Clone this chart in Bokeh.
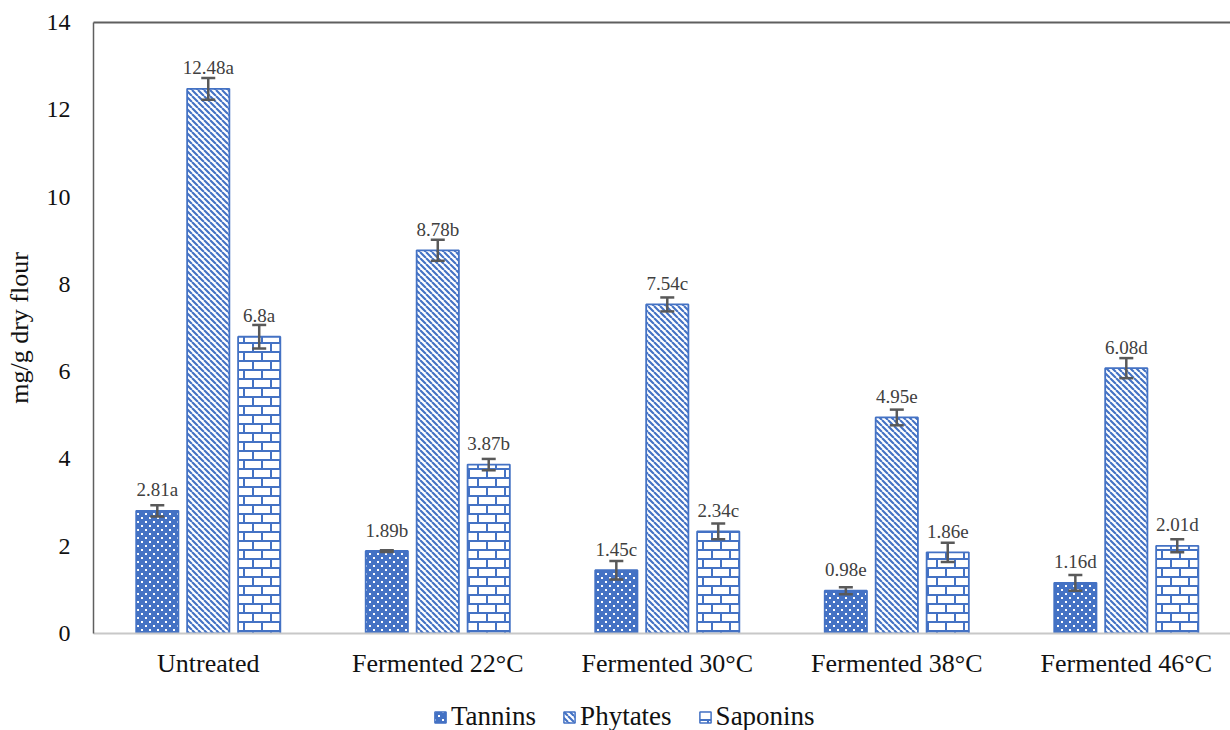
from bokeh.plotting import figure
from bokeh.layouts import column
from bokeh.models import (Range1d, LinearAxis, FixedTicker, Whisker, TeeHead, ColumnDataSource,
                          Legend, LegendItem, CanvasTexture)
from bokeh.transform import dodge
from bokeh.core.properties import value
from bokeh.embed import file_html
from bokeh.resources import INLINE

# ---------------- data ----------------
categories = ["Untreated", "Fermented 22°C", "Fermented 30°C", "Fermented 38°C", "Fermented 46°C"]
series = ["Tannins", "Phytates", "Saponins"]
tannins = [2.81, 1.89, 1.45, 0.98, 1.16]
phytates = [12.48, 8.78, 7.54, 4.95, 6.08]
saponins = [6.8, 3.87, 2.34, 1.86, 2.01]
tannins_err = [0.13, 0.02, 0.21, 0.08, 0.18]
phytates_err = [0.25, 0.24, 0.16, 0.18, 0.23]
saponins_err = [0.27, 0.13, 0.18, 0.22, 0.15]
tannins_letters = ["a", "b", "c", "e", "d"]
phytates_letters = ["a", "b", "c", "e", "d"]
saponins_letters = ["a", "b", "c", "e", "d"]
y_ticks = [0, 2, 4, 6, 8, 10, 12, 14]
y_label = "mg/g dry flour"

# ---------------- style ----------------
BLUE = "#4472C4"
FONT = "Liberation Serif"

dots_js = """
const S = 8;
ctx.canvas.width = S; ctx.canvas.height = S;
ctx.setTransform(1, 0, 0, 1, 0, 0);
ctx.fillStyle = '#ffffff';
ctx.fillRect(1, 1, 2, 2);
ctx.fillRect(5, 5, 2, 2);
"""
stripes_js = """
const S = 6;
ctx.canvas.width = S; ctx.canvas.height = S;
ctx.setTransform(1, 0, 0, 1, 0, 0);
ctx.strokeStyle = '#4472C4';
ctx.lineWidth = 2.1;
ctx.beginPath();
for (let k = -1; k <= 1; k++) { ctx.moveTo(k * S, 0); ctx.lineTo(k * S + S, S); }
ctx.stroke();
"""
bricks_js = """
const S = 36;
ctx.canvas.width = S; ctx.canvas.height = S;
ctx.setTransform(1, 0, 0, 1, 0, 0);
ctx.strokeStyle = '#4472C4';
ctx.lineWidth = 2;
const rows = 4, h = S / rows, w = S / 2;
ctx.beginPath();
for (let r = 0; r < rows; r++) {
  const y = r * h;
  ctx.moveTo(0, y + 1); ctx.lineTo(S, y + 1);
  const off = (r % 2) ? w / 2 : 0;
  for (let x = off; x < S; x += w) { ctx.moveTo(x + 1, y + 1); ctx.lineTo(x + 1, y + h + 1); }
}
ctx.stroke();
"""
dots_tex = CanvasTexture(code=dots_js)
stripes_tex = CanvasTexture(code=stripes_js)
bricks_tex = CanvasTexture(code=bricks_js)

def bar_style(i):
    if i == 0:
        return dict(fill_color=BLUE, hatch_pattern=value("dots"), hatch_scale=8,
                    hatch_extra={"dots": dots_tex})
    if i == 1:
        return dict(fill_color="white", hatch_pattern=value("stripes"), hatch_scale=6,
                    hatch_extra={"stripes": stripes_tex})
    return dict(fill_color="white", hatch_pattern=value("bricks"), hatch_scale=36,
                hatch_extra={"bricks": bricks_tex})

xs = [i + 0.5 for i in range(len(categories))]

p = figure(width=1230, height=698, x_range=Range1d(0, 4.954), y_range=Range1d(0, 14),
           output_backend="svg", toolbar_location=None,
           min_border_left=93, min_border_right=0, min_border_top=22, min_border_bottom=65)
p.outline_line_color = None
p.xgrid.visible = False
p.ygrid.visible = False

# legend strip below the chart (frames are aligned by the column layout)
lg = figure(width=1230, height=32, x_range=Range1d(0, 4.954), y_range=Range1d(100, 101),
            output_backend="svg", toolbar_location=None, min_border=0)
lg.axis.visible = False
lg.grid.visible = False
lg.outline_line_color = None

offsets = [-0.222, 0.0, 0.222]
bar_w = 0.184
vals_all = [tannins, phytates, saponins]
errs_all = [tannins_err, phytates_err, saponins_err]
lets_all = [tannins_letters, phytates_letters, saponins_letters]

legend_renderers = []
for i, (s, vals, errs, lets, off) in enumerate(zip(series, vals_all, errs_all, lets_all, offsets)):
    src = ColumnDataSource(dict(
        x=xs, top=vals,
        upper=[v + e for v, e in zip(vals, errs)],
        lower=[v - e for v, e in zip(vals, errs)],
        label=[f"{v:g}{l}" for v, l in zip(vals, lets)],
    ))
    p.vbar(x=dodge("x", off, range=p.x_range), top="top", width=bar_w, bottom=0, source=src,
           line_color=BLUE, line_width=1.8, **bar_style(i))
    w = Whisker(source=src, base=dodge("x", off, range=p.x_range), upper="upper", lower="lower",
                dimension="height", line_color="#595959", line_width=2.5, level="overlay",
                upper_head=TeeHead(size=14, line_color="#595959", line_width=2.5),
                lower_head=TeeHead(size=14, line_color="#595959", line_width=2.5))
    p.add_layout(w)
    p.text(x=dodge("x", off, range=p.x_range), y="top", text="label", source=src,
           text_align="center", text_baseline="middle", y_offset=-21,
           text_font=value(FONT), text_font_size="19px", text_color="#404040")
    # same series in the legend strip, hidden: only its legend swatch is shown
    r = lg.vbar(x="x", top="top", width=bar_w, bottom=0, source=src,
                line_color=BLUE, line_width=1.5, **bar_style(i))
    r.visible = False
    legend_renderers.append(r)

# y axis
ya = p.yaxis[0]
ya.ticker = FixedTicker(ticks=y_ticks)
ya.axis_line_color = "#5f5f5f"
ya.axis_line_width = 1.5
ya.major_tick_line_color = None
ya.minor_tick_line_color = None
ya.major_label_standoff = 17
ya.major_label_text_font = FONT
ya.major_label_text_font_size = "24px"
ya.major_label_text_color = "#111111"
ya.axis_label = y_label
ya.axis_label_text_font = FONT
ya.axis_label_text_font_size = "26px"
ya.axis_label_text_font_style = "normal"
ya.axis_label_text_color = "#111111"
ya.axis_label_standoff = 10

# x axis
xa = p.xaxis[0]
xa.ticker = FixedTicker(ticks=xs)
xa.major_label_overrides = {x: c for x, c in zip(xs, categories)}
xa.axis_line_color = "#c8c8c8"
xa.axis_line_width = 2
xa.major_tick_line_color = None
xa.minor_tick_line_color = None
xa.major_label_standoff = 9
xa.major_label_text_font = FONT
xa.major_label_text_font_size = "26px"
xa.major_label_text_color = "#111111"

# top frame line
ta = LinearAxis(ticker=FixedTicker(ticks=[]), axis_line_color="#5f5f5f", axis_line_width=2,
                major_tick_line_color=None, minor_tick_line_color=None,
                major_label_text_font_size="0px")
p.add_layout(ta, "above")

legend = Legend(items=[LegendItem(label=s, renderers=[r]) for s, r in zip(series, legend_renderers)],
                orientation="horizontal", location=(340, -2),
                label_text_font=FONT, label_text_font_size="27px", label_text_color="#111111",
                glyph_width=14, glyph_height=14, label_standoff=4, spacing=26,
                padding=0, margin=0, border_line_color=None, background_fill_alpha=0,
                inactive_fill_alpha=0)
lg.add_layout(legend)

layout = column(p, lg, spacing=0)
open("out.html", "w").write(file_html(layout, INLINE))
